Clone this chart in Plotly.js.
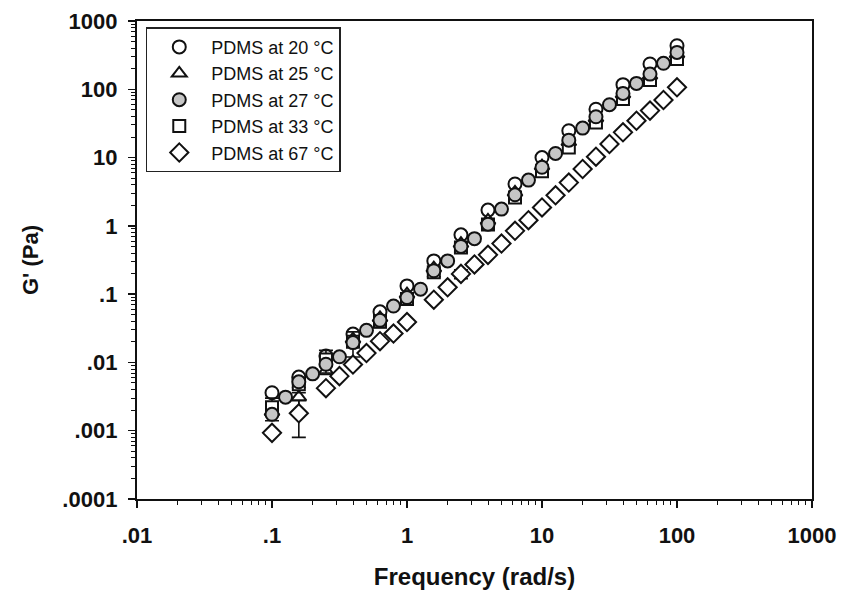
<!DOCTYPE html>
<html>
<head>
<meta charset="utf-8">
<script src="https://cdn.plot.ly/plotly-3.0.1.min.js"></script>
<style>html,body{margin:0;padding:0;background:#fff;}#chart{width:848px;height:603px;}</style>
</head>
<body>
<div id="chart"></div>
<script>
// Frequencies (rad/s)
var freq5 = [0.1, 0.158, 0.251, 0.398, 0.631, 1, 1.58, 2.51, 3.98, 6.31, 10, 15.8, 25.1, 39.8, 63.1, 100];
var freq10 = [0.1, 0.126, 0.158, 0.2, 0.251, 0.316, 0.398, 0.501, 0.631, 0.794, 1, 1.26, 1.58, 2, 2.51, 3.16, 3.98, 5.01, 6.31, 7.94, 10, 12.6, 15.8, 20, 25.1, 31.6, 39.8, 50.1, 63.1, 79.4, 100];
var freq67 = [0.1, 0.158, 0.251, 0.316, 0.398, 0.501, 0.631, 0.794, 1, 1.58, 2, 2.51, 3.16, 3.98, 5.01, 6.31, 7.94, 10, 12.6, 15.8, 20, 25.1, 31.6, 39.8, 50.1, 63.1, 79.4, 100];

// G' (Pa)
var g20 = [0.0036, 0.0061, 0.0124, 0.026, 0.055, 0.132, 0.307, 0.74, 1.7, 4.1, 10, 24.7, 51, 117, 235, 434];
var g25 = [0.0019, 0.0031, 0.0075, 0.022, 0.045, 0.1, 0.24, 0.55, 1.2, 3.1, 7.5, 17, 38, 85, 160, 330];
var g27 = [0.00174, 0.0031, 0.0052, 0.0068, 0.0094, 0.0121, 0.0195, 0.0295, 0.0414, 0.067, 0.089, 0.118, 0.22, 0.307, 0.5, 0.65, 1.06, 1.76, 2.85, 4.68, 7.2, 11.5, 18, 27, 39.6, 59.4, 87, 122, 167, 240, 347];
var g33 = [0.0022, 0.0048, 0.011, 0.02, 0.04, 0.085, 0.21, 0.48, 1.05, 2.6, 6.3, 14, 32.7, 72, 137, 278];
var g67 = [0.00093, 0.0018, 0.0042, 0.0063, 0.0093, 0.0137, 0.0205, 0.0265, 0.039, 0.083, 0.126, 0.198, 0.272, 0.376, 0.55, 0.845, 1.21, 1.86, 2.8, 4.3, 6.8, 10.3, 15.8, 23.4, 34.6, 48.7, 69.7, 107];

// Error bars (NaN = none)
var e25 = [NaN, 0.0012, NaN, NaN, NaN, NaN, NaN, NaN, NaN, NaN, NaN, NaN, NaN, NaN, NaN, NaN];
var e33 = [0.0008, 0.0012, 0.004, 0.008, 0.008, NaN, 0.03, 0.07, NaN, NaN, NaN, NaN, NaN, NaN, NaN, NaN];
var e67 = [NaN, 0.001, NaN, NaN, NaN, NaN, NaN, NaN, NaN, NaN, NaN, 0.03, NaN, NaN, NaN, NaN, NaN, NaN, NaN, NaN, NaN, NaN, NaN, NaN, NaN, NaN, NaN, NaN];

var seriesNames = ['PDMS at 20 \u00B0C', 'PDMS at 25 \u00B0C', 'PDMS at 27 \u00B0C', 'PDMS at 33 \u00B0C', 'PDMS at 67 \u00B0C'];

var xTickVals = [0.01, 0.1, 1, 10, 100, 1000];
var xTickText = ['.01', '.1', '1', '10', '100', '1000'];
var yTickVals = [0.0001, 0.001, 0.01, 0.1, 1, 10, 100, 1000];
var yTickText = ['.0001', '.001', '.01', '.1', '1', '10', '100', '1000'];

function minorVals(lo, hi) {
  var v = [];
  for (var d = lo; d < hi; d++) {
    for (var k = 2; k <= 9; k++) v.push(k * Math.pow(10, d));
  }
  return v;
}

var lineCol = '#111';
var mk = function (sym, fill, sz) {
  return {symbol: sym, size: sz || 13, color: fill, line: {color: lineCol, width: 2}};
};
var eb = function (arr) {
  return {type: 'data', array: arr, visible: true, color: lineCol, thickness: 1.6, width: 7};
};

var traces = [
  {x: freq5, y: g20, name: seriesNames[0], mode: 'markers', type: 'scatter', marker: mk('circle', '#ffffff'), legendrank: 1, legendgroup: 'a'},
  {x: freq5, y: g25, name: seriesNames[1], mode: 'markers', type: 'scatter', marker: mk('triangle-up', '#ffffff'), error_y: eb(e25), legendrank: 2, legendgroup: 'b'},
  {x: freq5, y: g33, name: seriesNames[3], mode: 'markers', type: 'scatter', marker: mk('square', '#ffffff', 12), error_y: eb(e33), legendrank: 4, legendgroup: 'd'},
  {x: freq10, y: g27, name: seriesNames[2], mode: 'markers', type: 'scatter', marker: mk('circle', '#c6c6c6'), legendrank: 3, legendgroup: 'c'},
  {x: freq67, y: g67, name: seriesNames[4], mode: 'markers', type: 'scatter', marker: mk('diamond', '#ffffff', 14), error_y: eb(e67), legendrank: 5, legendgroup: 'e'}
];

var fontFam = '"Liberation Sans", Arial, sans-serif';

var layout = {
  width: 848, height: 603,
  margin: {l: 137, r: 36, t: 21, b: 104},
  paper_bgcolor: '#fff', plot_bgcolor: '#fff',
  showlegend: true,
  legend: {
    x: 0.013, y: 0.987, xanchor: 'left', yanchor: 'top',
    bgcolor: '#fff', bordercolor: '#222', borderwidth: 1.5,
    font: {family: fontFam, size: 18, color: '#111'},
    tracegroupgap: 2, traceorder: 'normal', itemwidth: 54
  },
  xaxis: {
    type: 'log', range: [-2, 3],
    tickvals: xTickVals, ticktext: xTickText,
    ticks: 'outside', ticklen: 7, tickwidth: 1.5, tickcolor: lineCol,
    ticklabelstandoff: 8,
    minor: {tickvals: minorVals(-2, 3), ticks: 'outside', ticklen: 4, tickwidth: 1, tickcolor: lineCol},
    showline: true, linecolor: lineCol, linewidth: 2.2, mirror: true,
    showgrid: false, zeroline: false,
    tickfont: {family: fontFam, size: 22, color: '#111', weight: 'bold'},
    title: {text: '<b>Frequency (rad/s)</b>', font: {family: fontFam, size: 24, color: '#111'}, standoff: 22}
  },
  yaxis: {
    type: 'log', range: [-4, 3],
    tickvals: yTickVals, ticktext: yTickText,
    ticks: 'outside', ticklen: 7, tickwidth: 1.5, tickcolor: lineCol,
    ticklabelstandoff: 6,
    minor: {tickvals: minorVals(-4, 3), ticks: 'outside', ticklen: 4, tickwidth: 1, tickcolor: lineCol},
    showline: true, linecolor: lineCol, linewidth: 2.2, mirror: true,
    showgrid: false, zeroline: false,
    tickfont: {family: fontFam, size: 22, color: '#111', weight: 'bold'},
    title: {text: "<b>G' (Pa)</b>", font: {family: fontFam, size: 22, color: '#111'}, standoff: 18}
  }
};

Plotly.newPlot('chart', traces, layout, {displayModeBar: false, staticPlot: true});
</script>
</body>
</html>
